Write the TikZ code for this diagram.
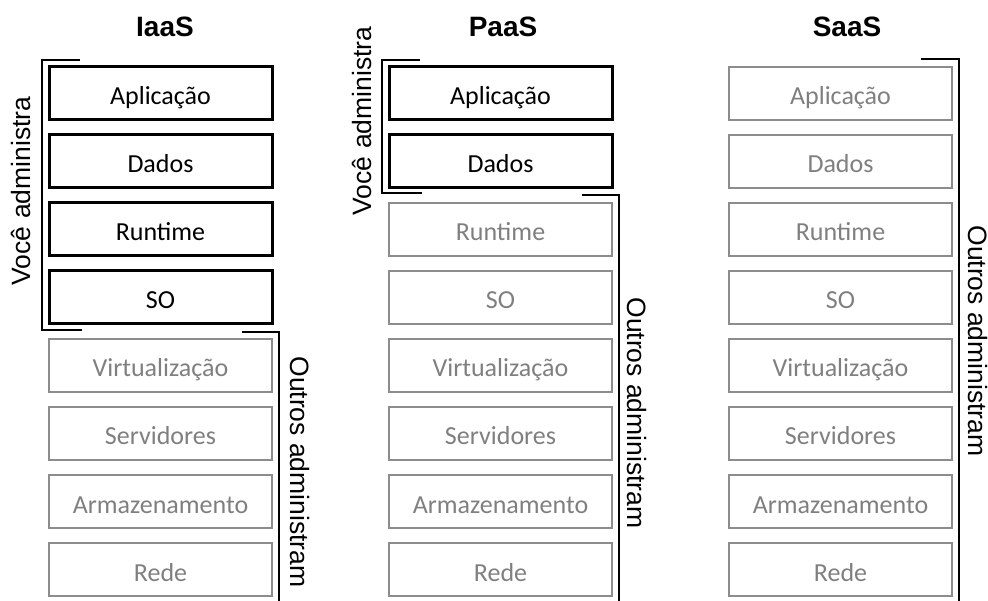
\documentclass[tikz,border=0pt]{standalone}
\usepackage{fontspec}
\setmainfont{Carlito}
\newfontfamily\arialfont{Liberation Sans}
\definecolor{lgray}{HTML}{8C8C8C}
\definecolor{tgray}{HTML}{7F7F7F}
\tikzset{
 layer/.style={draw, minimum width=223pt, minimum height=53pt, inner sep=0pt, text height=23pt, text depth=0pt, font=\fontsize{26}{30}\selectfont},
 own/.style={layer, draw=black, line width=3pt, text=black},
 other/.style={layer, draw=lgray, line width=2.4pt, text=tgray},
 coltitle/.style={font=\arialfont\bfseries\fontsize{28}{32}\selectfont},
 side/.style={font=\arialfont\fontsize{26.5}{30}\selectfont, inner sep=0pt},
 brk/.style={line width=2.6pt},
}
\begin{document}
\begin{tikzpicture}[x=1pt,y=-1pt]
\path[use as bounding box] (0,0) rectangle (988,601);
% titles
\node[coltitle] (tI) at (165,27) {IaaS};
\node[coltitle] (tP) at (503,27) {PaaS};
\node[coltitle] (tS) at (847,27) {SaaS};
% IaaS
\foreach \t [count=\k] in {Aplicação,Dados,Runtime,SO}
  \node[own] (i\k) at (160.5,{93.5+68*(\k-1)}) {\t};
\foreach \t [count=\k from 5] in {Virtualização,Servidores,Armazenamento,Rede}
  \node[other] (i\k) at (160.5,{93.5+68*(\k-1)}) {\t};
% PaaS
\foreach \t [count=\k] in {Aplicação,Dados}
  \node[own] (p\k) at (500.5,{93.5+68*(\k-1)}) {\t};
\foreach \t [count=\k from 3] in {Runtime,SO,Virtualização,Servidores,Armazenamento,Rede}
  \node[other] (p\k) at (500.5,{93.5+68*(\k-1)}) {\t};
% SaaS
\foreach \t [count=\k] in {Aplicação,Dados,Runtime,SO,Virtualização,Servidores,Armazenamento,Rede}
  \node[other] (s\k) at (840.5,{93.5+68*(\k-1)}) {\t};
% brackets
\draw[brk] (80,60) -- (42,60) -- (42,330) -- (82,330);
\draw[brk] (242,332) -- (279,332) -- (279,601);
\draw[brk] (420,60) -- (382,60) -- (382,193) -- (422,193);
\draw[brk] (582,195) -- (619,195) -- (619,601);
\draw[brk] (921,59) -- (959,59) -- (959,601);
% side labels
\node[side, rotate=90] (vI) at (21,191) {Você administra};
\node[side, rotate=90] (vP) at (362,121) {Você administra};
\node[side, rotate=-90] (oI) at (300,472) {Outros administram};
\node[side, rotate=-90] (oP) at (637,413) {Outros administram};
\node[side, rotate=-90] (oS) at (978,341) {Outros administram};
\end{tikzpicture}
\end{document}
